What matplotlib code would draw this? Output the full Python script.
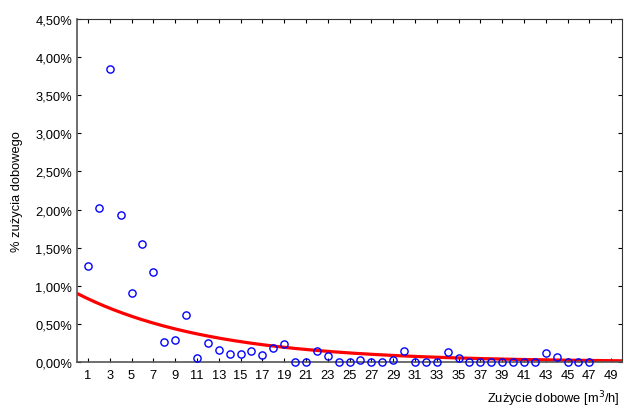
import numpy as np
import matplotlib
matplotlib.use("Agg")
from matplotlib import pyplot as plt
from matplotlib.ticker import FuncFormatter

# daily consumption class [m3/h] and share of daily consumption [%]
x_vals = list(range(1, 48))
y_vals = [1.26, 2.02, 3.85, 1.93, 0.905, 1.55, 1.18, 0.26, 0.29, 0.62,
          0.05, 0.25, 0.16, 0.10, 0.10, 0.14, 0.09, 0.18, 0.24, 0.0,
          0.0, 0.15, 0.08, 0.0, 0.0, 0.02, 0.0, 0.0, 0.02, 0.15,
          0.0, 0.0, 0.0, 0.13, 0.05, 0.0, 0.0, 0.0, 0.0, 0.0,
          0.0, 0.0, 0.12, 0.06, 0.0, 0.0, 0.0]

# fitted exponential curve y = a * exp(-b * x)
fit_a = 0.90
fit_b = 0.081

plt.rcParams['font.family'] = ['Liberation Sans', 'DejaVu Sans']
fs = 9.3

fig = plt.figure(figsize=(6.24, 4.10), dpi=100)
ax = fig.add_axes((77/624, 47/410, 545/624, 343/410))

xs = np.linspace(0, 50, 300)
ax.plot(xs, fit_a*np.exp(-fit_b*xs), color='#ff0000', lw=2.3, zorder=2)
ax.plot(x_vals, y_vals, 'o', mfc='none', mec='#0000ff', ms=5.2, mew=1.0, zorder=3, clip_on=False)

ax.set_xlim(0, 50)
ax.set_ylim(0, 4.5)
ax.set_xticks(range(1, 50, 2))
ax.set_yticks(np.arange(0, 4.51, 0.5))
ax.yaxis.set_major_formatter(FuncFormatter(lambda v, p: ("%.2f%%" % v).replace('.', ',')))
ax.tick_params(direction='in', length=3, width=0.8, top=True, right=True,
               labelsize=fs, colors='black')
ax.tick_params(axis='x', pad=5)
for s in ax.spines.values():
    s.set_linewidth(0.8)
    s.set_color('#333333')
ax.spines['left'].set_linewidth(1.2)
ax.spines['bottom'].set_linewidth(1.2)
ax.spines['left'].set_color('#555555')
ax.spines['bottom'].set_color('#555555')

ax.set_ylabel('% zużycia dobowego', fontsize=fs, labelpad=9)
fig.text(620/624, 1/410, 'Zużycie dobowe [m$^3$/h]', ha='right', va='bottom', fontsize=fs)

fig.savefig('out.png', dpi=100)
